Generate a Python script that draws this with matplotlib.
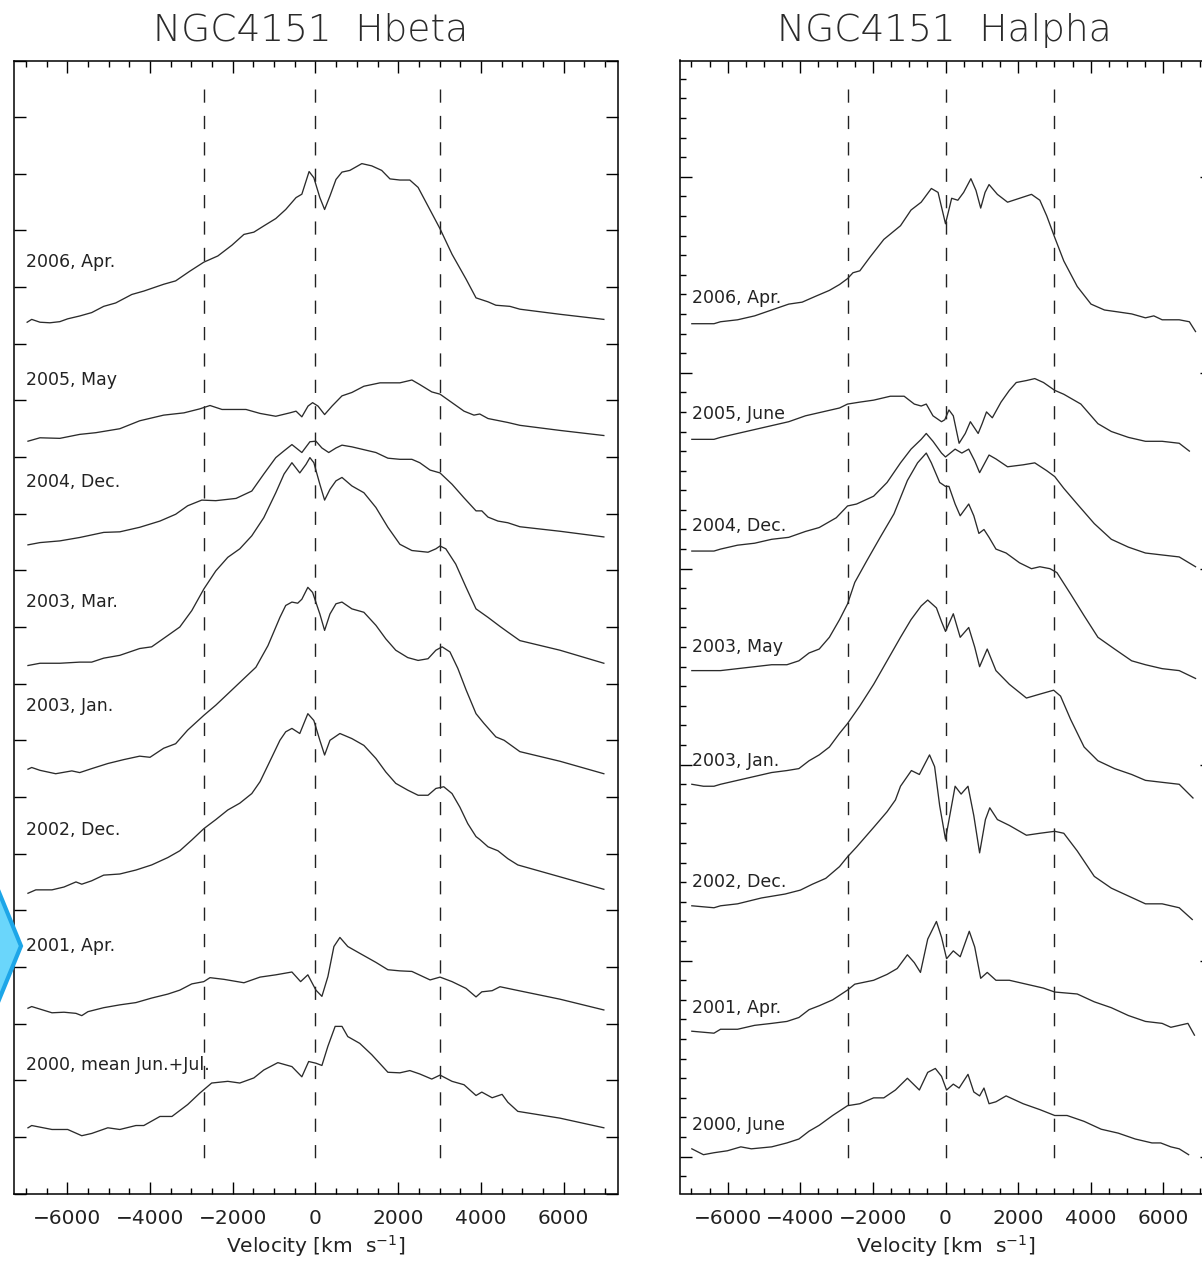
import numpy as np
import matplotlib
matplotlib.use("Agg")
import matplotlib.pyplot as plt
from matplotlib.ticker import MultipleLocator
from matplotlib.patches import Polygon

# ---------------- DATA (velocity in km/s, flux + offset in arbitrary units) -------------
# H-beta panel
hb_2006apr_v = [-6970,-6860,-6660,-6420,-6180,-5990,-5700,-5410,-5120,-4830,-4440,-4150,-3670,-3380,-3040,-2700,-2360,-2020,-1730,-1490,-1250,-960,-720,-470,-330,-155,-40,105,220,350,495,640,830,1120,1360,1600,1800,2040,2280,2480,2720,3010,3300,3640,3880,4170,4360,4700,4940,5910,6970]
hb_2006apr_f = [15.38,15.43,15.38,15.37,15.39,15.44,15.49,15.55,15.66,15.72,15.87,15.93,16.05,16.11,16.28,16.44,16.55,16.74,16.93,16.97,17.08,17.21,17.37,17.58,17.64,18.04,17.93,17.58,17.37,17.61,17.90,18.03,18.06,18.18,18.14,18.06,17.91,17.89,17.89,17.76,17.43,17.03,16.58,16.14,15.81,15.74,15.68,15.66,15.61,15.52,15.43]

hb_2005may_v = [-6950,-6660,-6180,-5700,-5310,-4730,-4250,-3670,-3180,-2800,-2550,-2260,-1680,-1340,-960,-620,-470,-330,-180,-70,60,220,400,640,880,1170,1560,2040,2330,2520,2810,3010,3300,3590,3830,3970,4170,4650,4940,5910,6970]
hb_2005may_f = [13.28,13.34,13.33,13.40,13.43,13.50,13.64,13.74,13.78,13.85,13.91,13.84,13.84,13.77,13.72,13.78,13.81,13.71,13.90,13.96,13.90,13.75,13.90,14.08,14.14,14.25,14.31,14.31,14.36,14.28,14.15,14.11,13.96,13.81,13.74,13.76,13.68,13.61,13.56,13.47,13.38]

hb_2004dec_v = [-6950,-6660,-6180,-5700,-5120,-4730,-4250,-3760,-3380,-3090,-2750,-2410,-1920,-1540,-1250,-960,-760,-570,-330,-135,10,155,320,495,640,880,1170,1460,1750,2040,2330,2520,2770,3010,3300,3590,3880,4020,4170,4410,4650,4940,5910,6970]
hb_2004dec_f = [11.45,11.49,11.52,11.58,11.67,11.68,11.76,11.87,11.99,12.14,12.24,12.23,12.27,12.40,12.70,12.99,13.11,13.22,13.08,13.27,13.28,13.16,13.08,13.16,13.21,13.18,13.13,13.08,12.98,12.96,12.96,12.90,12.77,12.72,12.52,12.28,12.05,12.05,11.94,11.87,11.84,11.77,11.69,11.59]

hb_2003mar_v = [-6950,-6660,-6180,-5700,-5410,-5120,-4730,-4250,-3960,-3570,-3280,-2990,-2700,-2410,-2120,-1830,-1540,-1250,-960,-760,-570,-380,-230,-135,-40,105,220,350,495,640,880,1170,1460,1750,2040,2330,2720,2910,3010,3150,3390,3640,3880,4170,4460,4650,4940,5910,6970]
hb_2003mar_f = [9.32,9.36,9.36,9.38,9.38,9.45,9.50,9.62,9.65,9.85,10.00,10.29,10.67,10.99,11.23,11.38,11.61,11.93,12.37,12.70,12.90,12.72,12.87,12.99,12.90,12.52,12.24,12.43,12.58,12.64,12.49,12.37,12.11,11.76,11.46,11.35,11.32,11.38,11.43,11.38,11.11,10.70,10.32,10.17,10.01,9.91,9.76,9.59,9.36]

hb_2003jan_v = [-6950,-6860,-6660,-6280,-5890,-5700,-5410,-5020,-4630,-4250,-4000,-3670,-3380,-3090,-2700,-2410,-2120,-1730,-1440,-1150,-860,-720,-570,-430,-330,-185,-70,105,220,350,495,640,880,1170,1460,1700,1940,2230,2480,2720,2910,3060,3250,3440,3640,3880,4070,4360,4560,4940,5910,6970]
hb_2003jan_f = [7.49,7.52,7.47,7.41,7.46,7.43,7.50,7.59,7.66,7.72,7.70,7.86,7.94,8.18,8.44,8.62,8.82,9.09,9.29,9.67,10.17,10.38,10.44,10.42,10.49,10.70,10.61,10.23,9.94,10.23,10.41,10.44,10.32,10.26,10.03,9.79,9.59,9.46,9.41,9.44,9.59,9.65,9.56,9.27,8.89,8.47,8.30,8.06,8.00,7.80,7.63,7.41]

hb_2002dec_v = [-6950,-6760,-6370,-6080,-5790,-5650,-5410,-5120,-4730,-4340,-3960,-3570,-3280,-2990,-2700,-2410,-2120,-1830,-1540,-1340,-1050,-860,-720,-570,-380,-185,-40,105,220,350,590,880,1170,1460,1700,1940,2230,2480,2720,2910,3100,3300,3490,3680,3880,3970,4170,4410,4650,4890,5910,6970]
hb_2002dec_f = [5.30,5.36,5.36,5.41,5.50,5.46,5.52,5.62,5.64,5.71,5.80,5.93,6.05,6.24,6.44,6.60,6.77,6.89,7.06,7.27,7.71,8.00,8.15,8.21,8.12,8.47,8.35,8.00,7.74,8.00,8.12,8.03,7.91,7.68,7.44,7.24,7.12,7.03,7.03,7.15,7.18,7.06,6.82,6.53,6.30,6.25,6.12,6.05,5.91,5.80,5.59,5.37]

hb_2001apr_v = [-6950,-6860,-6370,-6080,-5790,-5650,-5500,-5120,-4730,-4340,-3960,-3570,-3280,-2990,-2700,-2550,-2210,-1730,-1340,-960,-570,-360,-185,10,155,300,445,590,780,1070,1460,1750,2040,2330,2770,3010,3300,3640,3880,4020,4270,4460,4850,5910,6970]
hb_2001apr_f = [3.27,3.30,3.19,3.20,3.18,3.14,3.21,3.28,3.33,3.37,3.45,3.52,3.59,3.70,3.74,3.81,3.78,3.72,3.82,3.86,3.91,3.74,3.86,3.59,3.48,3.83,4.36,4.52,4.36,4.24,4.08,3.95,3.93,3.92,3.77,3.82,3.74,3.62,3.47,3.56,3.58,3.65,3.59,3.43,3.24]

hb_2000jj_v = [-6950,-6860,-6370,-5990,-5650,-5410,-5020,-4730,-4340,-4150,-3760,-3470,-3090,-2800,-2510,-2120,-1830,-1490,-1250,-910,-570,-330,-165,10,155,300,475,640,780,1070,1360,1750,2040,2280,2520,2810,3010,3300,3590,3880,4020,4270,4510,4650,4890,5910,6970]
hb_2000jj_f = [1.16,1.20,1.13,1.13,1.02,1.06,1.16,1.13,1.20,1.20,1.36,1.36,1.57,1.77,1.95,1.98,1.95,2.04,2.18,2.31,2.24,2.06,2.33,2.30,2.26,2.60,2.95,2.95,2.77,2.65,2.45,2.14,2.13,2.17,2.11,2.02,2.09,1.98,1.92,1.73,1.79,1.69,1.75,1.61,1.45,1.33,1.16]

hb_labels = ["2006, Apr.", "2005, May", "2004, Dec.", "2003, Mar.", "2003, Jan.",
             "2002, Dec.", "2001, Apr.", "2000, mean Jun.+Jul."]
hb_label_y = [16.44, 14.36, 12.56, 10.45, 8.60, 6.41, 4.37, 2.27]

# H-alpha panel
ha_2006apr_v = [-6990,-6670,-6380,-6200,-5730,-5260,-4790,-4320,-3950,-3580,-3200,-2920,-2700,-2550,-2360,-2080,-1700,-1240,-950,-670,-390,-205,0,170,340,500,700,840,970,1090,1200,1430,1710,2040,2370,2600,2790,3010,3260,3630,4010,4380,4760,5130,5510,5740,5970,6440,6720,6890]
ha_2006apr_f = [4.25,4.25,4.25,4.26,4.27,4.29,4.32,4.35,4.36,4.39,4.42,4.45,4.48,4.51,4.52,4.59,4.68,4.75,4.83,4.87,4.94,4.92,4.76,4.89,4.88,4.92,4.99,4.93,4.84,4.92,4.96,4.91,4.87,4.89,4.91,4.88,4.80,4.69,4.57,4.44,4.35,4.32,4.31,4.30,4.28,4.29,4.27,4.27,4.26,4.21]

ha_2005jun_v = [-6990,-6380,-6200,-5730,-5260,-4790,-4320,-3860,-3390,-2920,-2700,-2360,-1980,-1520,-1140,-860,-670,-530,-345,-110,-20,95,215,375,545,685,900,1010,1130,1290,1530,1760,1950,2230,2460,2700,3010,3260,3730,4200,4570,5040,5510,5970,6440,6720]
ha_2005jun_f = [3.66,3.66,3.67,3.69,3.71,3.73,3.75,3.78,3.80,3.82,3.84,3.85,3.86,3.88,3.88,3.84,3.83,3.84,3.78,3.75,3.76,3.81,3.78,3.64,3.69,3.75,3.69,3.74,3.80,3.77,3.85,3.91,3.95,3.96,3.97,3.95,3.91,3.89,3.84,3.74,3.70,3.67,3.65,3.65,3.64,3.60]

ha_2004dec_v = [-6990,-6380,-6200,-5730,-5260,-4790,-4320,-3860,-3480,-3010,-2700,-2450,-1980,-1610,-1240,-950,-670,-530,-345,-110,0,265,450,640,805,940,1200,1390,1710,2140,2460,2790,3010,3260,3630,4100,4570,5040,5510,5970,6440,6890]
ha_2004dec_f = [3.09,3.09,3.10,3.12,3.13,3.15,3.16,3.19,3.21,3.26,3.32,3.33,3.37,3.44,3.54,3.61,3.66,3.69,3.65,3.59,3.57,3.61,3.59,3.61,3.55,3.49,3.58,3.56,3.52,3.53,3.54,3.50,3.47,3.41,3.33,3.23,3.15,3.11,3.08,3.07,3.06,3.01]

ha_2003may_v = [-6990,-6380,-6200,-5730,-5260,-4790,-4370,-4040,-3760,-3480,-3200,-2920,-2700,-2500,-2170,-1800,-1420,-1050,-770,-530,-390,-160,0,95,265,405,640,780,920,1060,1200,1390,1670,2040,2370,2600,2880,3070,3450,3820,4200,4660,5130,5510,5970,6440,6890]
ha_2003may_f = [2.48,2.48,2.48,2.49,2.50,2.51,2.51,2.53,2.57,2.59,2.65,2.74,2.82,2.93,3.04,3.16,3.28,3.45,3.54,3.59,3.54,3.44,3.42,3.42,3.33,3.27,3.33,3.27,3.18,3.20,3.16,3.10,3.08,3.03,3.00,3.01,3.00,2.98,2.87,2.76,2.65,2.59,2.53,2.51,2.49,2.48,2.44]

ha_2003jan_v = [-6990,-6670,-6380,-6200,-5730,-5260,-4790,-4370,-4040,-3760,-3480,-3200,-2920,-2700,-2360,-1980,-1610,-1240,-950,-670,-490,-250,-110,0,215,405,640,805,940,1150,1390,1760,2230,2600,2980,3170,3450,3820,4200,4660,5130,5510,5970,6440,6820]
ha_2003jan_f = [1.90,1.89,1.89,1.90,1.92,1.94,1.96,1.97,1.98,2.02,2.05,2.09,2.16,2.21,2.30,2.41,2.53,2.65,2.74,2.81,2.84,2.80,2.73,2.68,2.77,2.65,2.70,2.60,2.50,2.59,2.48,2.41,2.34,2.36,2.38,2.35,2.23,2.09,2.02,1.98,1.95,1.92,1.91,1.90,1.83]

ha_2002dec_v = [-6990,-6380,-6200,-5730,-5070,-4420,-4000,-3670,-3300,-2920,-2700,-2450,-1980,-1610,-1380,-1240,-940,-720,-440,-300,-160,0,265,430,620,780,940,1100,1220,1430,1760,2230,2600,3010,3260,3630,4100,4570,5040,5510,5970,6440,6800]
ha_2002dec_f = [1.28,1.27,1.28,1.29,1.32,1.34,1.36,1.39,1.42,1.48,1.53,1.58,1.68,1.76,1.82,1.89,1.97,1.95,2.05,1.99,1.79,1.62,1.89,1.85,1.89,1.74,1.55,1.72,1.78,1.72,1.69,1.64,1.65,1.66,1.65,1.56,1.43,1.37,1.33,1.29,1.29,1.27,1.21]

ha_2001apr_v = [-6990,-6380,-6200,-5730,-5260,-4790,-4370,-4040,-3760,-3480,-3110,-2700,-2500,-1980,-1610,-1330,-1050,-860,-690,-490,-250,-110,30,215,405,655,805,970,1150,1390,1760,2230,2700,3010,3630,4100,4570,5040,5510,5970,6210,6680,6860]
ha_2001apr_f = [0.64,0.63,0.65,0.65,0.67,0.68,0.69,0.71,0.75,0.77,0.80,0.85,0.88,0.90,0.93,0.96,1.03,0.99,0.94,1.11,1.20,1.12,1.01,1.05,1.02,1.15,1.07,0.91,0.94,0.90,0.90,0.88,0.86,0.84,0.83,0.79,0.76,0.72,0.69,0.68,0.66,0.68,0.62]

ha_2000jun_v = [-6990,-6670,-6380,-6010,-5640,-5350,-4790,-4370,-4040,-3760,-3480,-3110,-2700,-2360,-1980,-1700,-1380,-1050,-720,-490,-280,-110,30,215,375,620,780,940,1060,1200,1390,1670,2140,2600,3010,3350,3820,4290,4760,5230,5690,5930,6210,6440,6700]
ha_2000jun_f = [0.04,0.01,0.02,0.03,0.05,0.04,0.05,0.07,0.09,0.13,0.16,0.21,0.26,0.27,0.30,0.30,0.34,0.40,0.34,0.43,0.45,0.41,0.34,0.37,0.35,0.42,0.33,0.31,0.35,0.27,0.28,0.31,0.27,0.24,0.21,0.21,0.18,0.14,0.12,0.09,0.07,0.07,0.05,0.04,0.01]

ha_labels = ["2006, Apr.", "2005, June", "2004, Dec.", "2003, May", "2003, Jan.",
             "2002, Dec.", "2001, Apr.", "2000, June"]
ha_label_y = [4.38, 3.79, 3.22, 2.60, 2.02, 1.40, 0.76, 0.16]

marker_velocities = [-2700, 0, 3000]
tick_values = [-6000, -4000, -2000, 0, 2000, 4000, 6000]

hb_series = [(hb_2006apr_v, hb_2006apr_f), (hb_2005may_v, hb_2005may_f),
             (hb_2004dec_v, hb_2004dec_f), (hb_2003mar_v, hb_2003mar_f),
             (hb_2003jan_v, hb_2003jan_f), (hb_2002dec_v, hb_2002dec_f),
             (hb_2001apr_v, hb_2001apr_f), (hb_2000jj_v, hb_2000jj_f)]
ha_series = [(ha_2006apr_v, ha_2006apr_f), (ha_2005jun_v, ha_2005jun_f),
             (ha_2004dec_v, ha_2004dec_f), (ha_2003may_v, ha_2003may_f),
             (ha_2003jan_v, ha_2003jan_f), (ha_2002dec_v, ha_2002dec_f),
             (ha_2001apr_v, ha_2001apr_f), (ha_2000jun_v, ha_2000jun_f)]

# ---------------- FIGURE ----------------
W, H = 1202, 1261
fig = plt.figure(figsize=(W / 100, H / 100), dpi=100)
fig.patch.set_facecolor("white")


def px_axes(x0, x1, y0, y1):
    return fig.add_axes([x0 / W, 1 - y1 / H, (x1 - x0) / W, (y1 - y0) / H])


axL = px_axes(13.5, 617.5, 60.5, 1193.5)
axR = px_axes(679.5, 1211.5, 60.5, 1193.5)

TXT = "#222222"
LINE = "#2b2b2b"

for ax, xl in ((axL, 7300), (axR, 7330)):
    ax.set_xlim(-xl, xl)
    ax.set_xticks(tick_values)
    ax.xaxis.set_minor_locator(MultipleLocator(500))
    ax.tick_params(axis="both", which="major", direction="in", length=8.5, width=1.0,
                   top=True, right=True, labelsize=14.5, pad=11, labelcolor=TXT)
    ax.tick_params(axis="both", which="minor", direction="in", length=4.3, width=1.0,
                   top=True, right=True)
    ax.tick_params(axis="y", labelleft=False)
    for s in ax.spines.values():
        s.set_linewidth(1.1)
    ax.set_xlabel(r"Velocity $\left[\mathrm{km\ \ s^{-1}}\right]$", fontsize=14.5,
                  color=TXT, labelpad=4)

axL.set_ylim(0, 20)
axL.yaxis.set_major_locator(MultipleLocator(1))
axR.set_ylim(-0.188, 5.593)
axR.yaxis.set_major_locator(MultipleLocator(1))
axR.yaxis.set_minor_locator(MultipleLocator(0.1))

dash = (0, (9.5, 9.5))
for v in marker_velocities:
    axL.plot([v, v], [19.49, 0.48], color="#222222", lw=1.0, ls=dash)
    axR.plot([v, v], [5.45, -0.05], color="#222222", lw=1.0, ls=dash)

for vv, ff in hb_series:
    axL.plot(vv, ff, color=LINE, lw=0.95, solid_joinstyle="round")
for vv, ff in ha_series:
    axR.plot(vv, ff, color=LINE, lw=0.95, solid_joinstyle="round")

for lab, y in zip(hb_labels, hb_label_y):
    axL.text(-7000, y, lab, fontsize=12.5, color=TXT, ha="left", va="center")
for lab, y in zip(ha_labels, ha_label_y):
    axR.text(-6990, y, lab, fontsize=12.5, color=TXT, ha="left", va="center")

fig.text(311 / W, 1 - 30 / H, "NGC4151  Hbeta", fontsize=27, color="#2a2a2a",
         ha="center", va="center", fontweight="light")
fig.text(944 / W, 1 - 30 / H, "NGC4151  Halpha", fontsize=27, color="#2a2a2a",
         ha="center", va="center", fontweight="light")

# blue navigation chevron at the left edge of the screenshot
chev = np.array([[-6, 880], [21, 946], [-6, 1012]], dtype=float)
chev[:, 0] /= W
chev[:, 1] = 1 - chev[:, 1] / H
fig.patches.append(Polygon(chev, closed=True, facecolor="#6ad6fb", edgecolor="#1da6e8",
                           lw=3, transform=fig.transFigure, figure=fig))

fig.savefig("out.png", dpi=100)
